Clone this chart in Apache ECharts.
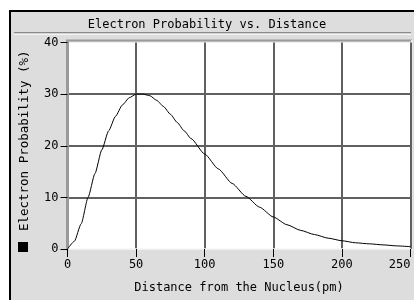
<!DOCTYPE html>
<html>
<head>
<meta charset="utf-8">
<script src="https://cdn.jsdelivr.net/npm/echarts@6/dist/echarts.min.js"></script>
<style>
html,body{margin:0;padding:0;background:#fff;}
#c{width:414px;height:300px;}
</style>
</head>
<body>
<div id="c"></div>
<script>
const chartTitle = 'Electron Probability vs. Distance';
const xAxisName = 'Distance from the Nucleus(pm)';
const yAxisName = 'Electron Probability (%)';
const distance = [0, 5, 10, 15, 20, 25, 30, 35, 40, 45, 50, 55, 60, 65, 70, 75, 80, 85, 90, 100, 110, 120, 130, 140, 150, 160, 170, 180, 190, 200, 210, 220, 230, 240, 250];
const probability = [0, 1.5, 4.9, 10.0, 14.6, 19.2, 22.9, 25.7, 27.9, 29.3, 30.0, 30.0, 29.7, 28.8, 27.6, 26.1, 24.5, 22.9, 21.4, 18.4, 15.5, 12.7, 10.2, 8.1, 6.2, 4.7, 3.6, 2.8, 2.1, 1.6, 1.2, 1.0, 0.8, 0.6, 0.45];

const FONT = 'DejaVu Sans Mono';
const chart = echarts.init(document.getElementById('c'), null, {renderer: 'canvas'});
const seriesData = distance.map((d, i) => [d, probability[i]]);

chart.setOption({
  animation: false,
  backgroundColor: '#ffffff',
  graphic: [
    {type: 'rect', z: -10, shape: {x: 9, y: 10, width: 410, height: 295}, style: {fill: '#dddddd'}},
    {type: 'rect', z: -9, shape: {x: 9, y: 10, width: 410, height: 2}, style: {fill: '#000'}},
    {type: 'rect', z: -9, shape: {x: 9, y: 10, width: 2, height: 295}, style: {fill: '#000'}},
    {type: 'rect', z: -9, shape: {x: 14, y: 32, width: 397, height: 1.5}, style: {fill: '#8a8a8a'}},
    {type: 'rect', z: -9, shape: {x: 14, y: 33.5, width: 397, height: 1.5}, style: {fill: '#f4f4f4'}},
    {type: 'rect', z: -9, shape: {x: 66, y: 39.5, width: 346, height: 2}, style: {fill: '#9a9a9a'}},
    {type: 'rect', z: -9, shape: {x: 411, y: 40, width: 1.5, height: 210}, style: {fill: '#f0f0f0'}}
  ],
  title: {
    text: chartTitle,
    left: 'center',
    top: 14,
    textStyle: {fontFamily: FONT, fontSize: 12, fontWeight: 'normal', color: '#000'}
  },
  legend: {
    data: [yAxisName],
    left: 18,
    top: 242,
    itemWidth: 10,
    itemHeight: 10,
    icon: 'rect',
    formatter: () => '',
    itemGap: 0,
    padding: 0,
    textStyle: {fontSize: 1}
  },
  grid: {
    left: 67.5,
    right: 3.5,
    top: 42.5,
    bottom: 51,
    show: true,
    backgroundColor: '#ffffff',
    borderWidth: 0
  },
  xAxis: {
    type: 'value',
    min: 0,
    max: 250,
    interval: 50,
    name: xAxisName,
    nameLocation: 'middle',
    nameGap: 33,
    nameTextStyle: {fontFamily: FONT, fontSize: 12, color: '#000'},
    axisLine: {show: true, onZero: false, lineStyle: {color: '#f6f6f6', width: 1.5}},
    axisTick: {show: true, length: 8, lineStyle: {color: '#000', width: 1}},
    axisLabel: {fontFamily: FONT, fontSize: 12, color: '#000', margin: 10, alignMaxLabel: 'right'},
    splitLine: {show: true, showMinLine: false, lineStyle: {color: '#606060', width: 2}}
  },
  yAxis: {
    type: 'value',
    min: 0,
    max: 40,
    interval: 10,
    name: yAxisName,
    nameLocation: 'middle',
    nameRotate: 90,
    nameGap: 36,
    nameTextStyle: {fontFamily: FONT, fontSize: 12.5, color: '#000', padding: [0, 0, 0, 10]},
    axisLine: {show: true, lineStyle: {color: '#9a9a9a', width: 3}},
    axisTick: {show: true, length: 7, lineStyle: {color: '#000', width: 1}},
    axisLabel: {fontFamily: FONT, fontSize: 12, color: '#000', margin: 9},
    splitLine: {show: true, showMinLine: false, showMaxLine: false, lineStyle: {color: '#606060', width: 2}}
  },
  series: [{
    name: yAxisName,
    type: 'line',
    data: seriesData,
    smooth: 0.2,
    smoothMonotone: 'x',
    symbol: 'none',
    color: '#000',
    lineStyle: {color: '#000', width: 1},
    z: 5
  }]
});
</script>
</body>
</html>
